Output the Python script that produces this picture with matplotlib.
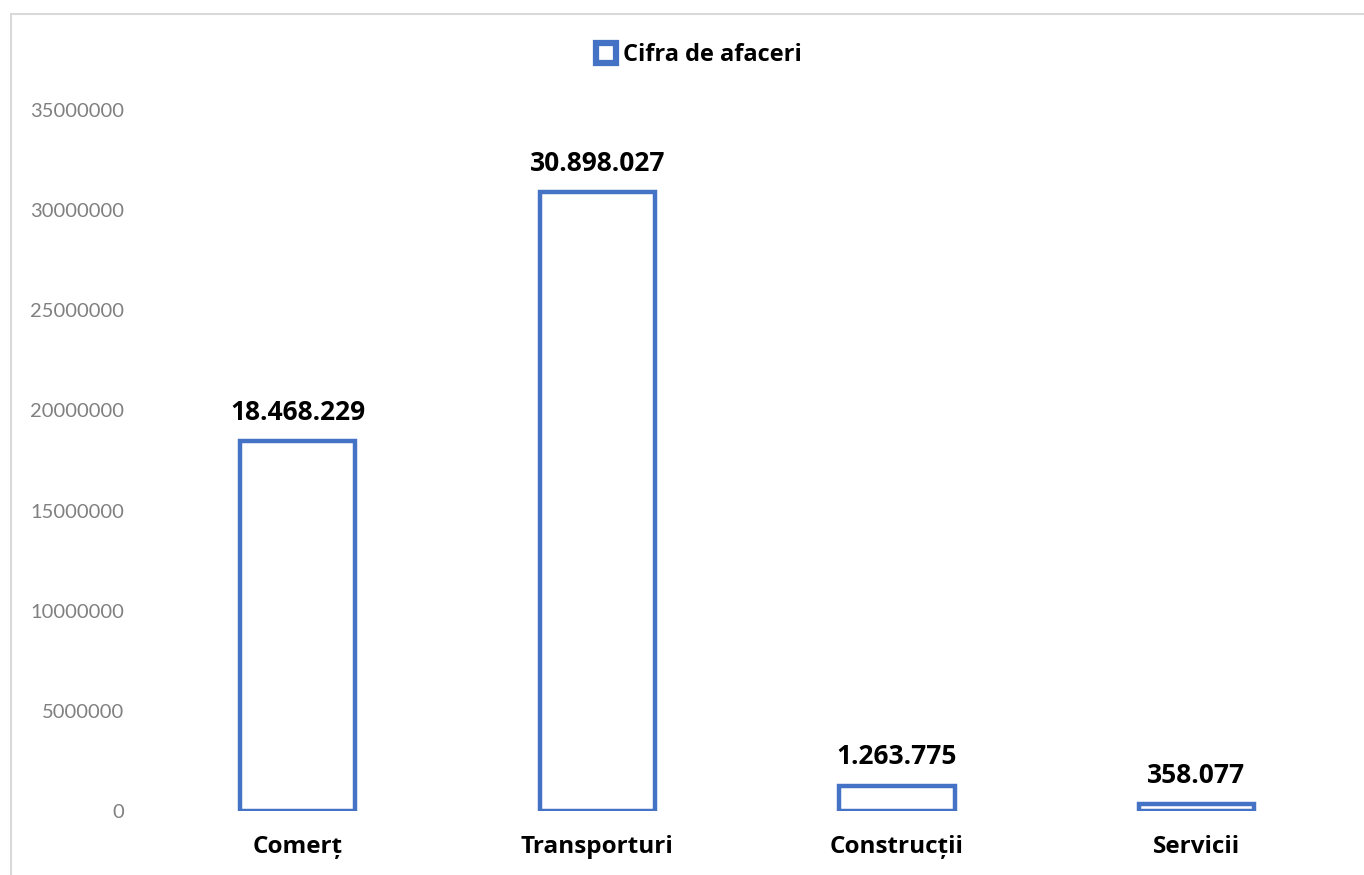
import numpy as np
import matplotlib.pyplot as plt
from matplotlib.lines import Line2D
from matplotlib.patches import Rectangle

plt.rcParams['font.family'] = ['Lato', 'DejaVu Sans']
bold_font = ['Open Sans', 'DejaVu Sans']

# date
categorii = ["Comerț", "Transporturi", "Construcții", "Servicii"]
cifra_afaceri = [18468229, 30898027, 1263775, 358077]
etichete = ["18.468.229", "30.898.027", "1.263.775", "358.077"]
yticks = [0, 5000000, 10000000, 15000000, 20000000, 25000000, 30000000, 35000000]

albastru = "#4472C4"

fig = plt.figure(figsize=(13.64, 8.75), dpi=100)
ax = fig.add_axes([0.1085, 0.0731, 0.8785, 0.8012])

x = np.arange(len(categorii))
ax.bar(x, cifra_afaceri, width=0.385, facecolor="white", edgecolor=albastru, linewidth=3.2)

for xi, v, t in zip(x, cifra_afaceri, etichete):
    ax.annotate(t, (xi, v), xytext=(0, 11), textcoords="offset points",
                ha="center", va="bottom", fontsize=19, fontweight="bold",
                family=bold_font, color="black")

ax.set_xlim(-0.5, len(categorii) - 0.5)
ax.set_ylim(0, 35000000)
ax.set_yticks(yticks)
ax.set_yticklabels([str(v) for v in yticks])
ax.set_xticks(x)
ax.set_xticklabels(categorii, fontsize=17.5, fontweight="bold", family=bold_font)
ax.tick_params(axis="y", length=0, pad=17, labelsize=14.5, labelcolor="#808080")
ax.tick_params(axis="x", length=0, pad=17)
for s in ax.spines.values():
    s.set_visible(False)

# legenda
h = Line2D([], [], marker="s", linestyle="none", markersize=14, markerfacecolor="white",
           markeredgecolor=albastru, markeredgewidth=4.5)
fig.legend([h], ["Cifra de afaceri"], loc="center", bbox_to_anchor=(0.511, 0.937),
           frameon=False, handletextpad=0.1, handlelength=1.2,
           prop={"weight": "bold", "size": 17, "family": bold_font})

# chenar
fig.add_artist(Rectangle((11 / 1364, -0.01), 1.1, 1 - 14 / 875 + 0.01, transform=fig.transFigure,
                         fill=False, edgecolor="#d9d9d9", linewidth=1.5))

fig.savefig("out.png", dpi=100)
